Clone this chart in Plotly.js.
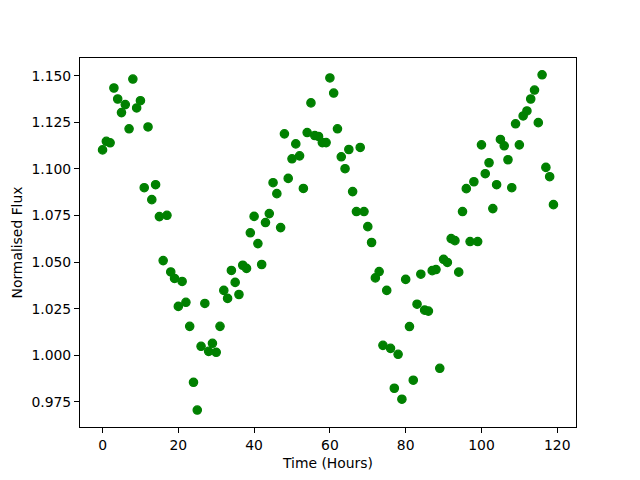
<!DOCTYPE html>
<html>
<head>
<meta charset="utf-8">
<script src="https://cdn.plot.ly/plotly-3.0.1.min.js"></script>
<style>html,body{margin:0;padding:0;background:#fff;}#chart{width:640px;height:480px;}</style>
</head>
<body>
<div id="chart"></div>
<script>
// Time in hours (one observation per hour)
const timeHours = [
  0,1,2,3,4,5,6,7,8,9,10,11,12,13,14,15,16,17,18,19,
  20,21,22,23,24,25,26,27,28,29,30,31,32,33,34,35,36,37,38,39,
  40,41,42,43,44,45,46,47,48,49,50,51,52,53,54,55,56,57,58,59,
  60,61,62,63,64,65,66,67,68,69,70,71,72,73,74,75,76,77,78,79,
  80,81,82,83,84,85,86,87,88,89,90,91,92,93,94,95,96,97,98,99,
  100,101,102,103,104,105,106,107,108,109,110,111,112,113,114,115,116,117,118,119
];
// Normalised flux values
const normFlux = [
  1.1102,1.1148,1.1140,1.1434,1.1375,1.1302,1.1345,1.1215,1.1482,1.1327,
  1.1366,1.0899,1.1225,1.0835,1.0915,1.0744,1.0508,1.0751,1.0447,1.0412,
  1.0262,1.0396,1.0284,1.0155,0.9855,0.9706,1.0048,1.0278,1.0021,1.0064,
  1.0016,1.0155,1.0348,1.0305,1.0455,1.0391,1.0326,1.0483,1.0466,1.0657,
  1.0745,1.0599,1.0487,1.0712,1.0760,1.0926,1.0867,1.0685,1.1188,1.0949,
  1.1054,1.1134,1.1070,1.0895,1.1195,1.1354,1.1179,1.1174,1.1141,1.1141,
  1.1488,1.1407,1.1215,1.1065,1.1001,1.1104,1.0878,1.0771,1.1115,1.0771,
  1.0690,1.0605,1.0415,1.0449,1.0053,1.0348,1.0037,0.9823,1.0005,0.9764,
  1.0407,1.0154,0.9866,1.0274,1.0435,1.0242,1.0237,1.0454,1.0460,0.9930,
  1.0515,1.0498,1.0626,1.0615,1.0446,1.0771,1.0894,1.0610,1.0931,1.0610,
  1.1129,1.0974,1.1033,1.0787,1.0915,1.1158,1.1124,1.1049,1.0899,1.1242,
  1.1129,1.1284,1.1311,1.1375,1.1423,1.1248,1.1505,1.1008,1.0958,1.0808
];
const xTicks = [0,20,40,60,80,100,120];
const yTicks = [0.975,1.000,1.025,1.050,1.075,1.100,1.125,1.150];
const yTickText = yTicks.map(v => v.toFixed(3));

const font = {family: 'DejaVu Sans, sans-serif', size: 13.9, color: '#000'};

const trace = {
  x: timeHours,
  y: normFlux,
  type: 'scatter',
  mode: 'markers',
  marker: {color: '#008000', size: 8.3, line: {color: '#008000', width: 1.3}},
  hoverinfo: 'skip'
};

const axisCommon = {
  showgrid: false, zeroline: false,
  showline: true, linecolor: '#000', linewidth: 1.1, mirror: true,
  ticks: 'outside', ticklen: 4.9, tickwidth: 1.1, tickcolor: '#000',
  tickfont: font
};

const layout = {
  width: 640, height: 480,
  margin: {l: 80, r: 64, t: 57.6, b: 52.8},
  paper_bgcolor: '#fff', plot_bgcolor: '#fff',
  showlegend: false,
  font: font,
  xaxis: Object.assign({}, axisCommon, {
    range: [-5.95, 124.95],
    tickmode: 'array', tickvals: xTicks, ticktext: xTicks.map(String),
    title: {text: 'Time (Hours)', font: font, standoff: 6}
  }),
  yaxis: Object.assign({}, axisCommon, {
    range: [0.9615, 1.1595],
    tickmode: 'array', tickvals: yTicks, ticktext: yTickText,
    title: {text: 'Normalised Flux', font: font, standoff: 5}
  })
};

Plotly.newPlot('chart', [trace], layout, {staticPlot: true, displayModeBar: false});
</script>
</body>
</html>
